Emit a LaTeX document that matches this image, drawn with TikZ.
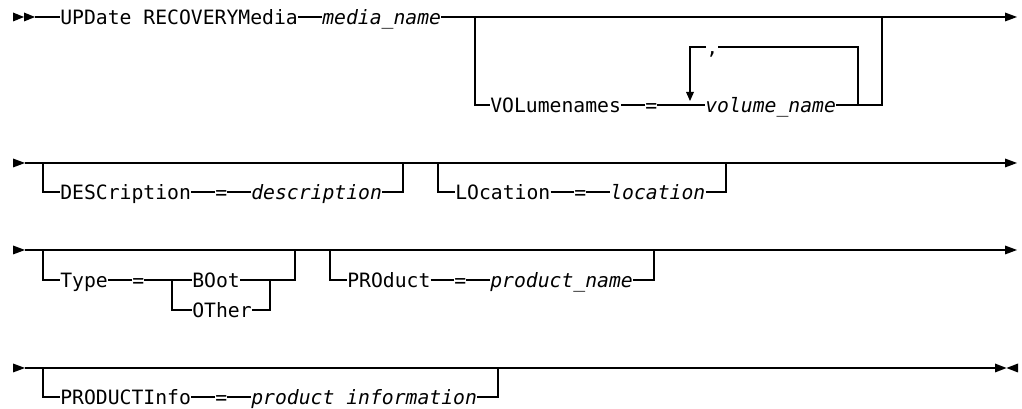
\documentclass[tikz,border=0pt]{standalone}
\usepackage{fontspec}
\newfontfamily\synmono{DejaVu Sans Mono}
\newcommand\synfont{\synmono\fontsize{14.8pt}{17pt}\selectfont}
\tikzset{
  txt/.style={inner sep=0pt, text height=10.8pt, text depth=0pt, anchor=west, font=\synfont},
  var/.style={txt, font=\synfont\itshape},
  ln/.style={line width=0.8pt, line join=miter},
  tip/.style={fill=black, draw=none},
}
\begin{document}
\begin{tikzpicture}[x=0.75pt,y=-0.75pt]
\useasboundingbox (0,0) rectangle (1022,409);

% ---------- Line 1 ----------
\fill[tip] (13,12.5) -- (24,17) -- (13,21.5) -- cycle;
\fill[tip] (24,12.5) -- (35,17) -- (24,21.5) -- cycle;
\coordinate (s1) at (35,17);
\node[txt] (upd) at (60,17) {UPDate RECOVERYMedia};
\node[var] (mn) at (322,17) {media\_name};
\coordinate (e1) at (1005,17);
\fill[tip] (1005,12.5) -- (1017,17) -- (1005,21.5) -- cycle;
\draw[ln] (s1) -- (upd.west);
\draw[ln] (upd.east) -- (mn.west);
\draw[ln] (mn.east) -- (e1);

\coordinate (b1l) at (475,17);
\coordinate (b1r) at (882,17);
\node[txt] (vol) at (490,105) {VOLumenames};
\node[txt] (eq1) at (645,105) {=};
\node[var] (vn) at (705,105) {volume\_name};
\draw[ln] (b1l) |- (vol.west);
\draw[ln] (vol.east) -- (eq1.west);
\draw[ln] (eq1.east) -- (vn.west);
\draw[ln] (vn.east) -| (b1r);
% repeat loop
\coordinate (lpr) at (858,105);
\coordinate (lpl) at (690,92);
\node[txt] (cm) at (706,47) {,};
\draw[ln] (lpr) |- (cm.east);
\draw[ln] (cm.west) -| (lpl);
\fill[tip] (686,92) -- (694,92) -- (690,101) -- cycle;

% ---------- Line 2 ----------
\fill[tip] (13,158.5) -- (25,163) -- (13,167.5) -- cycle;
\coordinate (s2) at (25,163);
\coordinate (e2) at (1005,163);
\fill[tip] (1005,158.5) -- (1017,163) -- (1005,167.5) -- cycle;
\draw[ln] (s2) -- (e2);

\coordinate (b2l) at (43,163);
\coordinate (b2r) at (403,163);
\node[txt] (desc) at (60,192) {DESCription};
\node[txt] (eq2) at (215,192) {=};
\node[var] (dsv) at (251,192) {description};
\draw[ln] (b2l) |- (desc.west);
\draw[ln] (desc.east) -- (eq2.west);
\draw[ln] (eq2.east) -- (dsv.west);
\draw[ln] (dsv.east) -| (b2r);

\coordinate (b3l) at (438,163);
\coordinate (b3r) at (726,163);
\node[txt] (loc) at (455,192) {LOcation};
\node[txt] (eq3) at (574,192) {=};
\node[var] (lcv) at (610,192) {location};
\draw[ln] (b3l) |- (loc.west);
\draw[ln] (loc.east) -- (eq3.west);
\draw[ln] (eq3.east) -- (lcv.west);
\draw[ln] (lcv.east) -| (b3r);

% ---------- Line 3 ----------
\fill[tip] (13,245.5) -- (25,250) -- (13,254.5) -- cycle;
\coordinate (s3) at (25,250);
\coordinate (e3) at (1005,250);
\fill[tip] (1005,245.5) -- (1017,250) -- (1005,254.5) -- cycle;
\draw[ln] (s3) -- (e3);

\coordinate (b4l) at (43,250);
\coordinate (b4r) at (295,250);
\node[txt] (type) at (60,280) {Type};
\node[txt] (eq4) at (132,280) {=};
\node[txt] (boot) at (192,280) {BOot};
\node[txt] (oth) at (192,310) {OTher};
\coordinate (chl) at (172,280);
\coordinate (chr) at (270,280);
\draw[ln] (b4l) |- (type.west);
\draw[ln] (type.east) -- (eq4.west);
\draw[ln] (eq4.east) -- (boot.west);
\draw[ln] (chl) |- (oth.west);
\draw[ln] (oth.east) -| (chr);
\draw[ln] (boot.east) -- (chr) -| (b4r);

\coordinate (b5l) at (330,250);
\coordinate (b5r) at (654,250);
\node[txt] (prod) at (347,280) {PROduct};
\node[txt] (eq5) at (454,280) {=};
\node[var] (pn) at (490,280) {product\_name};
\draw[ln] (b5l) |- (prod.west);
\draw[ln] (prod.east) -- (eq5.west);
\draw[ln] (eq5.east) -- (pn.west);
\draw[ln] (pn.east) -| (b5r);

% ---------- Line 4 ----------
\fill[tip] (13,363.5) -- (25,368) -- (13,372.5) -- cycle;
\coordinate (s4) at (25,368);
\coordinate (e4) at (995,368);
\fill[tip] (995,363.5) -- (1006.5,368) -- (995,372.5) -- cycle;
\fill[tip] (1018,363.5) -- (1006.5,368) -- (1018,372.5) -- cycle;
\draw[ln] (s4) -- (e4);

\coordinate (b6l) at (43,368);
\coordinate (b6r) at (498,368);
\node[txt] (pinf) at (60,397) {PRODUCTInfo};
\node[txt] (eq6) at (215,397) {=};
\node[var] (piv) at (251,397) {product information};
\draw[ln] (b6l) |- (pinf.west);
\draw[ln] (pinf.east) -- (eq6.west);
\draw[ln] (eq6.east) -- (piv.west);
\draw[ln] (piv.east) -| (b6r);
\end{tikzpicture}
\end{document}
